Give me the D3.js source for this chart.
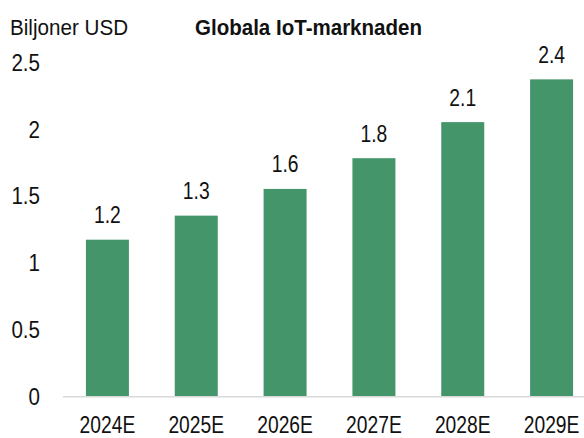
<!DOCTYPE html>
<html>
<head>
<meta charset="utf-8">
<script src="https://cdn.jsdelivr.net/npm/d3@7"></script>
<style>
  html, body { margin: 0; padding: 0; background: #fff; }
  svg text { font-family: "Liberation Sans", Arial, sans-serif; fill: #111; }
</style>
</head>
<body>
<div id="chart"></div>
<script>
// Data
const years = ["2024E", "2025E", "2026E", "2027E", "2028E", "2029E"];
const values = [1.17, 1.35, 1.55, 1.78, 2.05, 2.37];
const valueLabels = ["1.2", "1.3", "1.6", "1.8", "2.1", "2.4"];
const yTicks = [0, 0.5, 1, 1.5, 2, 2.5];

const width = 584, height = 438;
// the original uses a narrow font, so text is squeezed sideways
const narrow = 0.84;

const svg = d3.select("#chart").append("svg")
  .attr("width", width)
  .attr("height", height);

const x = d3.scaleBand()
  .domain(years)
  .range([63, 596])
  .paddingInner(0.516)
  .paddingOuter(0.258);

const y = d3.scaleLinear()
  .domain([0, 2.5])
  .range([396, 62]);

function place(px, py, sx) {
  return "translate(" + px + "," + py + ") scale(" + sx + ",1)";
}

// y tick labels (no axis line)
svg.append("g").selectAll("text")
  .data(yTicks)
  .join("text")
  .attr("transform", d => place(40, y(d), narrow))
  .attr("dy", "0.36em")
  .attr("text-anchor", "end")
  .style("font-size", "24.5px")
  .text(d => d);

// bars
svg.append("g").selectAll("rect")
  .data(values)
  .join("rect")
  .attr("x", (d, i) => x(years[i]))
  .attr("y", d => y(d))
  .attr("width", x.bandwidth())
  .attr("height", d => y(0) - y(d))
  .attr("fill", "#44956a");

// value labels
svg.append("g").selectAll("text")
  .data(values)
  .join("text")
  .attr("transform", (d, i) => place(x(years[i]) + x.bandwidth() / 2, y(d) - 16.5, narrow))
  .attr("text-anchor", "middle")
  .style("font-size", "23px")
  .text((d, i) => valueLabels[i]);

// x labels
svg.append("g").selectAll("text")
  .data(years)
  .join("text")
  .attr("transform", d => place(x(d) + x.bandwidth() / 2, 432.5, 0.82))
  .attr("text-anchor", "middle")
  .style("font-size", "23.5px")
  .text(d => d);

// baseline
svg.append("line")
  .attr("x1", 63).attr("x2", width)
  .attr("y1", y(0) + 0.7).attr("y2", y(0) + 0.7)
  .attr("stroke", "#d9d9d9")
  .attr("stroke-width", 1.5);

// titles
svg.append("text")
  .attr("transform", place(10, 35, 0.96))
  .style("font-size", "21.5px")
  .text("Biljoner USD");
svg.append("text")
  .attr("transform", place(195, 35, 0.955))
  .style("font-size", "21.5px")
  .style("font-weight", "bold")
  .text("Globala IoT-marknaden");
</script>
</body>
</html>
